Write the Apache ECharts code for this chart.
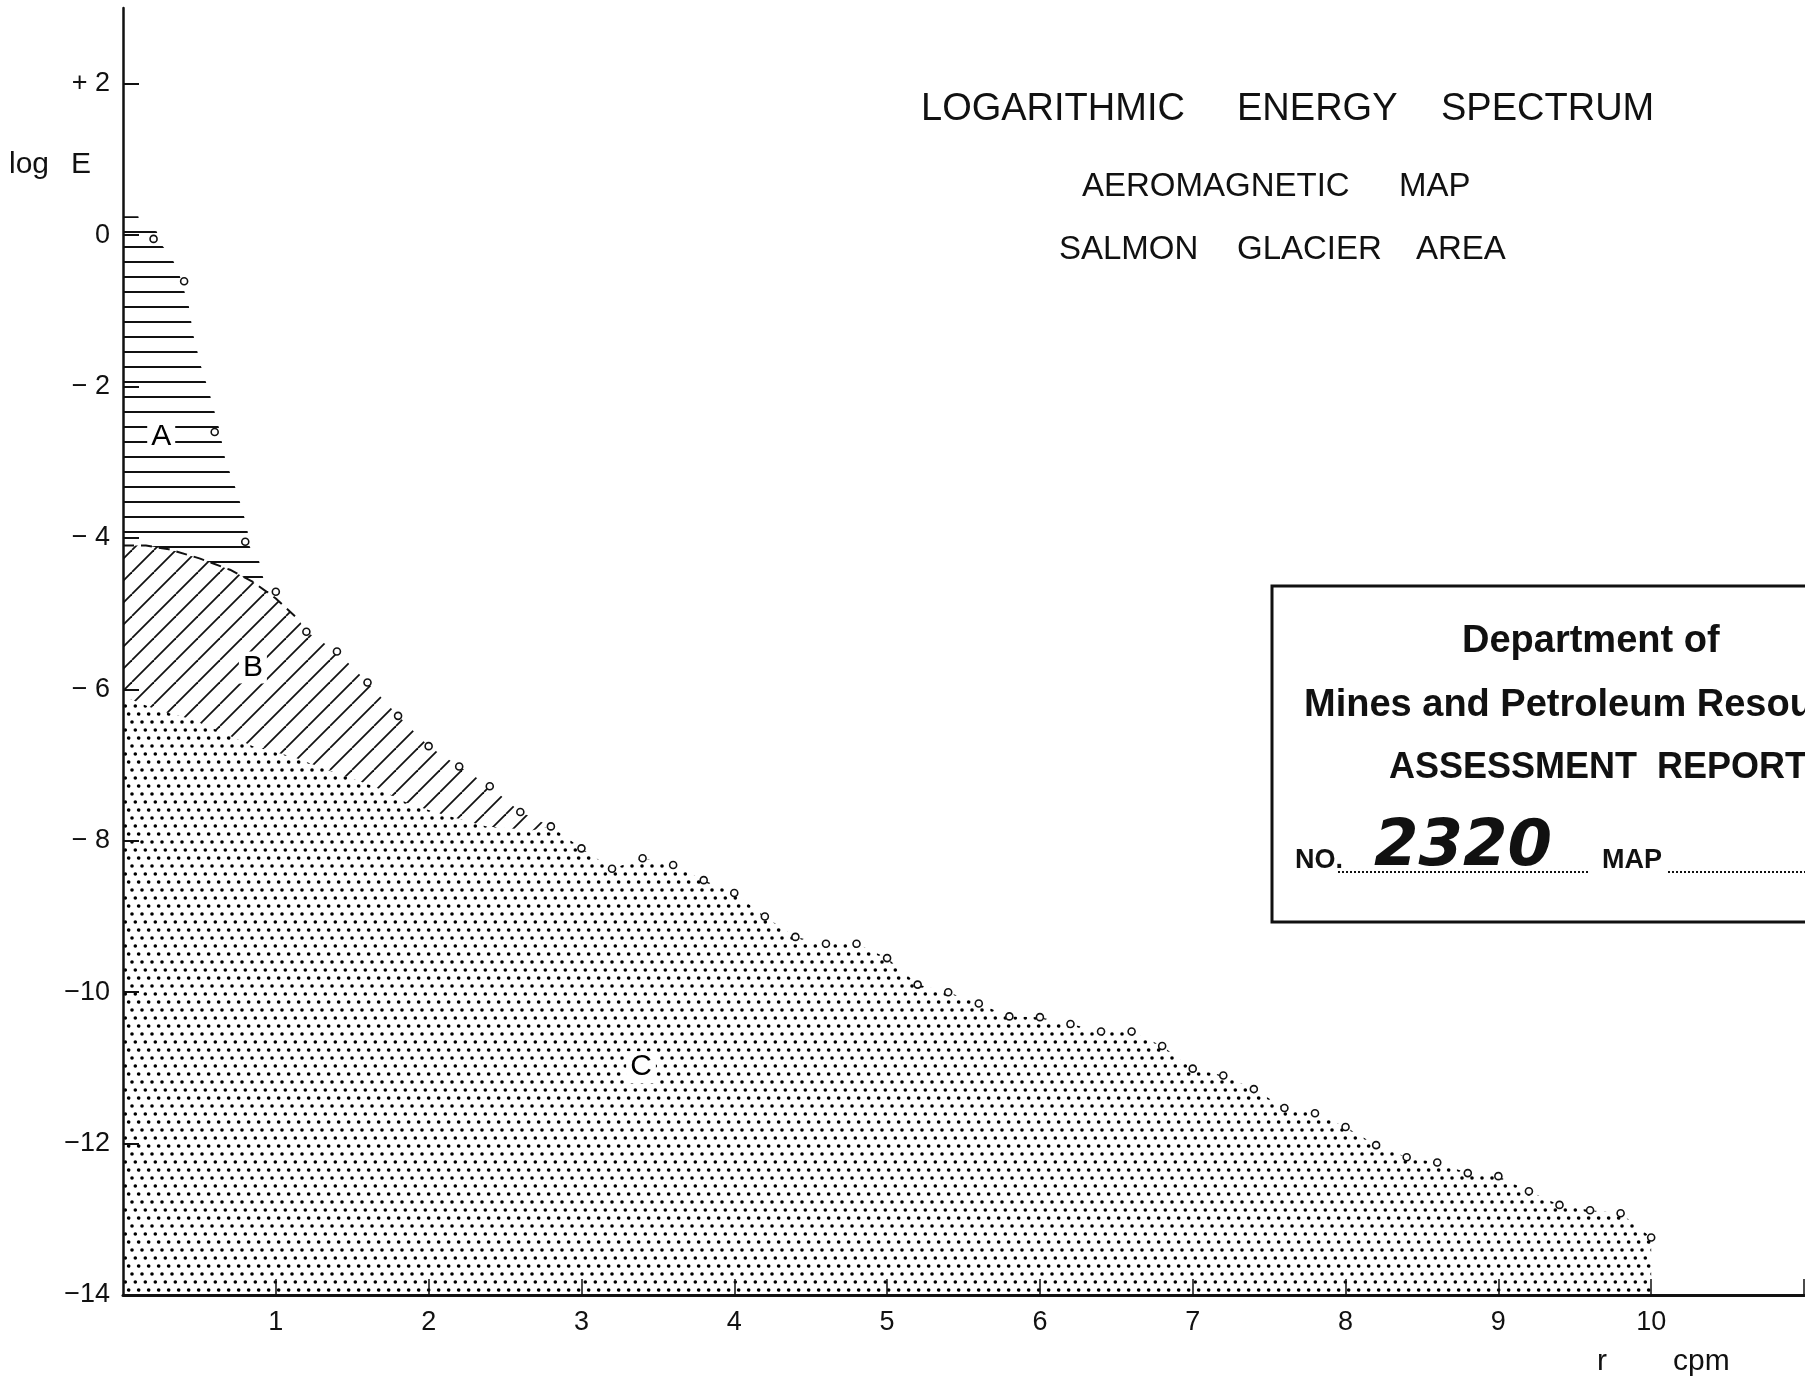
<!DOCTYPE html>
<html><head><meta charset="utf-8">
<script src="https://cdn.jsdelivr.net/npm/echarts@6/dist/echarts.min.js"></script>
<style>html,body{margin:0;padding:0;background:#fff}#c{width:1805px;height:1378px}</style>
</head><body><div id="c"></div>
<script>
// ---------- data ----------
const rValues = [0.2,0.4,0.6,0.8,1.0,1.2,1.4,1.6,1.8,2.0,2.2,2.4,2.6,2.8,3.0,3.2,3.4,3.6,3.8,4.0,
  4.2,4.4,4.6,4.8,5.0,5.2,5.4,5.6,5.8,6.0,6.2,6.4,6.6,6.8,7.0,7.2,7.4,7.6,7.8,8.0,
  8.2,8.4,8.6,8.8,9.0,9.2,9.4,9.6,9.8,10.0];
const logE = [-0.05,-0.61,-2.6,-4.05,-4.71,-5.24,-5.5,-5.91,-6.35,-6.75,-7.02,-7.28,-7.62,-7.81,-8.1,-8.37,-8.23,-8.32,-8.52,-8.69,
  -9.0,-9.27,-9.36,-9.36,-9.55,-9.9,-10.0,-10.15,-10.32,-10.33,-10.42,-10.52,-10.52,-10.71,-11.01,-11.1,-11.28,-11.53,-11.6,-11.78,
  -12.02,-12.18,-12.25,-12.39,-12.43,-12.63,-12.81,-12.88,-12.92,-13.24];

// right edge of the horizontal hatching (region A)
const regionAEdgeR    = [0, 0.10, 0.12, 0.22, 0.25, 0.32, 0.37, 0.40, 0.43, 0.46, 0.51, 0.57, 0.63, 0.67, 0.75, 0.81, 0.83, 0.89, 0.92, 0.95];
const regionAEdgeLogE = [0.25, 0.25, 0.08, 0.05, -0.12, -0.3, -0.53, -0.73, -0.93, -1.32, -1.73, -2.12, -2.56, -2.97, -3.42, -3.84, -4.12, -4.3, -4.55, -4.7];
// dashed boundary between A and B
const boundaryABr    = [0, 0.15, 0.3, 0.5, 0.7, 0.85, 1.0, 1.15];
const boundaryABlogE = [-4.1, -4.1, -4.15, -4.27, -4.42, -4.58, -4.8, -5.08];
// boundary between B (hatched) and C (stippled)
const boundaryBCr    = [0, 0.22, 0.46, 0.66, 0.85, 1.11, 1.33, 1.64, 1.86, 2.07, 2.38, 2.68];
const boundaryBClogE = [-6.09, -6.27, -6.4, -6.58, -6.75, -6.89, -7.06, -7.28, -7.5, -7.64, -7.81, -7.86];

const regionNames = ['A', 'B', 'C'];
const regionLabelR = [0.25, 0.85, 3.39];
const regionLabelLogE = [-2.66, -5.71, -10.99];

const xTickValues = [1,2,3,4,5,6,7,8,9,10];
const xTickMarks = [1,2,3,4,5,6,7,8,9,10,11];
const yTickValues = [2,0,-2,-4,-6,-8,-10,-12,-14];
const yTickLabels = ['+ 2','0','\u2212 2','\u2212 4','\u2212 6','\u2212 8','\u221210','\u221212','\u221214'];

// ---------- patterns ----------
function hLines() {
  const c = document.createElement('canvas'); c.width = 16; c.height = 15;
  const g = c.getContext('2d'); g.fillStyle = '#fff'; g.fillRect(0,0,16,15);
  g.fillStyle = '#111'; g.fillRect(0, 6, 16, 2); return c;
}
function dLines() {
  const w = 22, h = 22;
  const c = document.createElement('canvas'); c.width = w; c.height = h;
  const g = c.getContext('2d'); g.fillStyle = '#fff'; g.fillRect(0,0,w,h);
  g.strokeStyle = '#111'; g.lineWidth = 1.8;
  for (let k = -1; k <= 1; k++) { g.beginPath(); g.moveTo(k*w, h); g.lineTo(k*w + w, 0); g.stroke(); }
  return c;
}
function dots() {
  const w = 10, h = 24;
  const c = document.createElement('canvas'); c.width = w; c.height = h;
  const g = c.getContext('2d'); g.fillStyle = '#fff'; g.fillRect(0,0,w,h);
  g.fillStyle = '#000';
  const pts = [[2,2],[5.3,10],[8.6,18]];
  pts.forEach(p => { for (let dx = -w; dx <= w; dx += w) { g.beginPath(); g.arc(p[0]+dx, p[1], 1.8, 0, Math.PI*2); g.fill(); } });
  return c;
}

const zip = (a, b) => a.map((v, i) => [v, b[i]]);
const points = zip(rValues, logE);
const regionA = zip(regionAEdgeR, regionAEdgeLogE);
const boundaryAB = zip(boundaryABr, boundaryABlogE);
const regionB = boundaryAB.concat(points.filter(p => p[0] >= 1.2 && p[0] <= 2.8));
const regionC = zip(boundaryBCr, boundaryBClogE).concat(points.filter(p => p[0] >= 2.8));
const labelPts = regionNames.map((n, i) => ({ value: [regionLabelR[i], regionLabelLogE[i]], name: n }));

const FONT = 'Liberation Sans';
const chart = echarts.init(document.getElementById('c'), null, { renderer: 'canvas' });

function txt(text, x, y, size, opts) {
  return {
    type: 'text', x: x, y: y, silent: true, z: 50,
    style: Object.assign({ text: text, fill: '#111', font: size + 'px "' + FONT + '"', textVerticalAlign: 'middle', textAlign: 'left' }, (opts || {}))
  };
}

chart.setOption({
  backgroundColor: '#fff',
  animation: false,
  grid: { left: 123, right: 1, top: 8, bottom: 83, containLabel: false, outerBoundsMode: 'none' },
  xAxis: {
    type: 'value', min: 0, max: 11, interval: 1, z: 10,
    axisLine: { show: true, onZero: false, lineStyle: { color: '#111', width: 3 } },
    axisTick: { show: true, inside: true, length: 16, customValues: xTickMarks, lineStyle: { color: '#111', width: 1.5 } },
    axisLabel: { show: true, customValues: xTickValues, margin: 14, fontSize: 27, fontFamily: FONT, color: '#111' },
    splitLine: { show: false }
  },
  yAxis: {
    type: 'value', min: -14, max: 3, interval: 2, z: 10,
    axisLine: { show: true, onZero: false, lineStyle: { color: '#111', width: 2.5 } },
    axisTick: { show: true, inside: true, length: 16, customValues: yTickValues, lineStyle: { color: '#111', width: 2 } },
    axisLabel: { show: true, customValues: yTickValues, margin: 13, fontSize: 27, fontFamily: FONT, color: '#111',
      formatter: v => { const i = yTickValues.indexOf(v); return i >= 0 ? yTickLabels[i] : ''; } },
    splitLine: { show: false }
  },
  series: [
    { type: 'line', name: 'A', data: regionA, symbol: 'none', silent: true, z: 1,
      lineStyle: { width: 0 }, areaStyle: { origin: 'start', opacity: 1, color: { image: hLines(), repeat: 'repeat' } } },
    { type: 'line', name: 'B', data: regionB, symbol: 'none', silent: true, z: 2,
      lineStyle: { width: 0 }, areaStyle: { origin: 'start', opacity: 1, color: { image: dLines(), repeat: 'repeat' } } },
    { type: 'line', name: 'C', data: regionC, symbol: 'none', silent: true, z: 3,
      lineStyle: { width: 0 }, areaStyle: { origin: 'start', opacity: 1, color: { image: dots(), repeat: 'repeat' } } },
    { type: 'line', name: 'AB', data: boundaryAB, symbol: 'none', silent: true, z: 4,
      lineStyle: { color: '#111', width: 2, type: [11, 7] } },
    { type: 'scatter', name: 'log E', data: points, symbol: 'circle', symbolSize: 7, silent: true, z: 5,
      itemStyle: { color: '#fff', borderColor: '#111', borderWidth: 1.6, opacity: 1 } },
    { type: 'scatter', name: 'labels', data: labelPts, symbolSize: 0, silent: true, z: 6,
      itemStyle: { opacity: 1 },
      label: { show: true, position: 'inside', formatter: p => p.name, fontSize: 30, fontFamily: FONT, color: '#000', opacity: 1,
        backgroundColor: '#fff', padding: [1, 4] } }
  ],
  graphic: [
    txt('LOGARITHMIC', 921, 110, 38), txt('ENERGY', 1237, 110, 38), txt('SPECTRUM', 1441, 110, 38),
    txt('AEROMAGNETIC', 1082, 187, 33), txt('MAP', 1399, 187, 33),
    txt('SALMON', 1059, 250, 33), txt('GLACIER', 1237, 250, 33), txt('AREA', 1416, 250, 33),
    txt('log', 9, 165, 30), txt('E', 71, 165, 30),
    txt('r', 1597, 1362, 30), txt('cpm', 1673, 1362, 30),
    { type: 'rect', silent: true, z: 40, shape: { x: 1272, y: 586, width: 600, height: 336 },
      style: { fill: '#fff', stroke: '#111', lineWidth: 3 } },
    txt('Department of', 1462, 642, 38, { font: 'bold 38px "' + FONT + '"' }),
    txt('Mines and Petroleum Resources', 1304, 706, 38, { font: 'bold 38px "' + FONT + '"' }),
    txt('ASSESSMENT  REPORT', 1389, 768, 36, { font: 'bold 36px "' + FONT + '"' }),
    txt('NO.', 1295, 861, 27, { font: 'bold 27px "' + FONT + '"' }),
    { type: 'line', silent: true, z: 45, shape: { x1: 1338, y1: 872, x2: 1590, y2: 872 },
      style: { stroke: '#111', lineWidth: 2, lineDash: [2, 2] } },
    txt('2320', 1374, 848, 64, { font: 'italic bold 64px "DejaVu Sans"' }),
    txt('MAP', 1602, 861, 27, { font: 'bold 27px "' + FONT + '"' }),
    { type: 'line', silent: true, z: 45, shape: { x1: 1668, y1: 872, x2: 1805, y2: 872 },
      style: { stroke: '#111', lineWidth: 2, lineDash: [2, 2] } }
  ]
});
</script>
</body></html>
